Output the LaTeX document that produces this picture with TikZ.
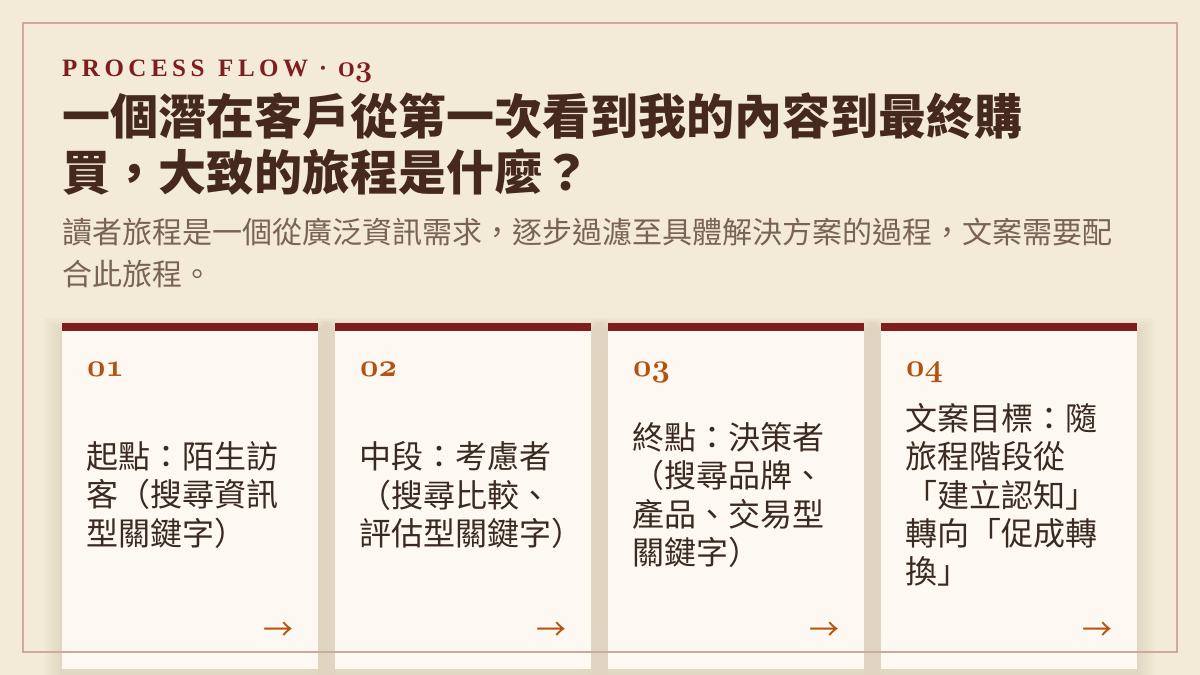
\RequirePackage{fix-cm}
\documentclass[tikz,border=0pt]{standalone}
\usepackage{fontspec}
\setmainfont{Liberation Serif}
\newfontfamily\cjk{Noto Sans CJK TC}
\newfontfamily\hdrfont{Liberation Serif}[LetterSpace=18]
\newcommand\osn[1]{{\usefont{OML}{cmm}{b}{it}#1}}
\definecolor{bgc}{HTML}{F3EAD8}
\definecolor{borderc}{HTML}{CFA9A0}
\definecolor{redc}{HTML}{7E1E1E}
\definecolor{titlec}{HTML}{45291E}
\definecolor{subc}{HTML}{7A6355}
\definecolor{cardc}{HTML}{FDF9F2}
\definecolor{shadowc}{HTML}{C9BB9F}
\definecolor{orangec}{HTML}{B5520F}
\definecolor{cardtextc}{HTML}{3B2A22}
\tikzset{
  cardbox/.style={fill=cardc, draw=none, anchor=north west, minimum width=256pt, minimum height=346pt, inner sep=0pt},
  cardtext/.style={anchor=west, align=left, inner sep=0pt, text=cardtextc, font=\cjk\fontsize{32}{38.4}\selectfont},
  cardnum/.style={anchor=base west, inner sep=0pt, text=orangec, font=\fontsize{32}{32}\selectfont},
  cardarrow/.style={anchor=center, inner sep=0pt, text=orangec, font=\cjk\fontsize{30}{30}\selectfont},
}
\begin{document}
\begin{tikzpicture}[x=1pt,y=-1pt]
\fill[bgc] (0,0) rectangle (1200,675);
\useasboundingbox (0,0) rectangle (1200,675);
% header
\node[anchor=base west, inner sep=0pt, text=redc, font=\hdrfont\bfseries\fontsize{25}{25}\selectfont] (kicker) at (62,76) {PROCESS\hspace{3pt} FLOW · {\fontsize{30}{30}\selectfont\osn{03}}};
\node[anchor=west, align=left, inner sep=0pt, text=titlec, font=\cjk\bfseries\fontsize{48}{56}\selectfont] (title) at (62,144.5) {一個潛在客戶從第一次看到我的內容到最終購\\買，大致的旅程是什麼？};
\node[anchor=west, align=left, inner sep=0pt, text=subc, font=\cjk\fontsize{30}{42}\selectfont] (sub) at (62,253) {讀者旅程是一個從廣泛資訊需求，逐步過濾至具體解決方案的過程，文案需要配\\合此旅程。};
% shadows
\foreach \i in {0,...,3}{
  \pgfmathsetmacro\xa{62+273*\i}
  \pgfmathsetmacro\xb{\xa+256}
  \foreach \k in {1,...,9}{
    \fill[shadowc, fill opacity=0.04] (\xa-2*\k, 331-1.5*\k) rectangle (\xb+2*\k, 675+2*\k);
  }
}
% cards
\node[cardbox] (card1) at (62,323) {};
\node[cardbox] (card2) at (335,323) {};
\node[cardbox] (card3) at (608,323) {};
\node[cardbox] (card4) at (881,323) {};
\foreach \c in {card1,card2,card3,card4}{
  \fill[redc] (\c.north west) rectangle ([yshift=-8pt]\c.north east);
}
\node[cardnum] (n1) at (87,376) {\osn{01}};
\node[cardnum] (n2) at (360,376) {\osn{02}};
\node[cardnum] (n3) at (633,376) {\osn{03}};
\node[cardnum] (n4) at (906,376) {\osn{04}};
\node[cardtext] (t1) at (86,495) {起點：陌生訪\\客（搜尋資訊\\型關鍵字）};
\node[cardtext] (t2) at (359,495) {中段：考慮者\\（搜尋比較、\\評估型關鍵字）};
\node[cardtext] (t3) at (632,495) {終點：決策者\\（搜尋品牌、\\產品、交易型\\關鍵字）};
\node[cardtext] (t4) at (905,495) {文案目標：隨\\旅程階段從\\「建立認知」\\轉向「促成轉\\換」};
\node[cardarrow] (a1) at (278,631) {→};
\node[cardarrow] (a2) at (551,631) {→};
\node[cardarrow] (a3) at (824,631) {→};
\node[cardarrow] (a4) at (1097,631) {→};
% frame
\draw[borderc, line width=1.6pt] (23,23) rectangle (1177,652);
\end{tikzpicture}
\end{document}
